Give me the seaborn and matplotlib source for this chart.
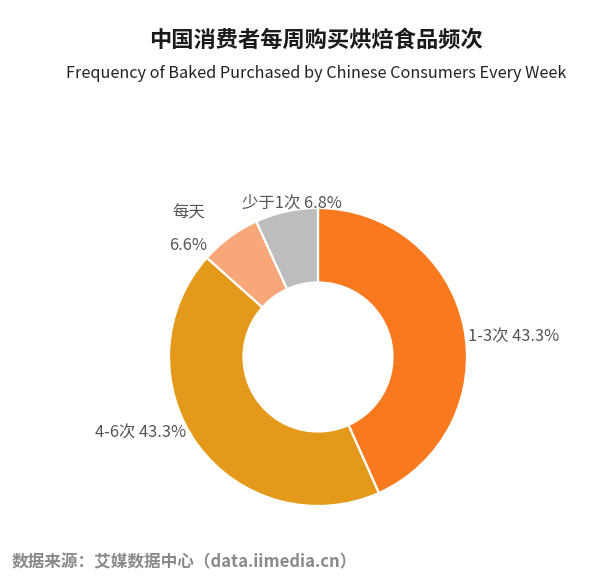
import matplotlib
matplotlib.use("Agg")
import matplotlib.pyplot as plt
import seaborn as sns

# data
categories = ["1-3次", "4-6次", "每天", "少于1次"]
shares = [43.3, 43.3, 6.6, 6.8]
colors = ["#F97A1E", "#E5991A", "#F8A878", "#BDBDBD"]

title_cn = "中国消费者每周购买烘焙食品频次"
title_en = "Frequency of Baked Purchased by Chinese Consumers Every Week"
source = "数据来源：艾媒数据中心（data.iimedia.cn）"

sns.set_theme(style="white")
plt.rcParams['font.family'] = ['Noto Sans CJK SC', 'DejaVu Sans']

W, H = 606, 577
fig = plt.figure(figsize=(W / 100, H / 100), dpi=100)
fig.patch.set_facecolor("white")

def px(x, y):
    return x / W, 1 - y / H

# donut: centre (318, 357), radius 149 px, hole about half
cx, cy, r = 318, 357, 149
ax = fig.add_axes([(cx - r) / W, 1 - (cy + r) / H, 2 * r / W, 2 * r / H])
ax.pie(shares, colors=colors, startangle=90, counterclock=False,
       radius=1, wedgeprops=dict(width=0.5, edgecolor="white", linewidth=1.6))
ax.set_xlim(-1, 1)
ax.set_ylim(-1, 1)
ax.set_aspect("equal")
ax.axis("off")

lab_color = "#555555"
fs = 11.8
fig.text(*px(468, 337), f"{categories[0]} {shares[0]}%", ha="left", va="center",
         fontsize=fs, color=lab_color)
fig.text(*px(95, 433), f"{categories[1]} {shares[1]}%", ha="left", va="center",
         fontsize=fs, color=lab_color)
fig.text(*px(172, 213), categories[2], ha="left", va="center",
         fontsize=fs, color=lab_color)
fig.text(*px(169, 245), f"{shares[2]}%", ha="left", va="center",
         fontsize=fs, color=lab_color)
fig.text(*px(242, 203), f"{categories[3]} {shares[3]}%", ha="left", va="center",
         fontsize=fs, color=lab_color)

fig.text(*px(316, 40), title_cn, ha="center", va="center", fontsize=16,
         fontweight="bold", color="#1a1a1a")
fig.text(*px(316, 74), title_en, ha="center", va="center", fontsize=11.7,
         color="#222222")
fig.text(*px(12, 562), source, ha="left", va="center", fontsize=12,
         fontweight="bold", color="#8a8a8a")

fig.savefig("out.png", dpi=100, facecolor="white")
